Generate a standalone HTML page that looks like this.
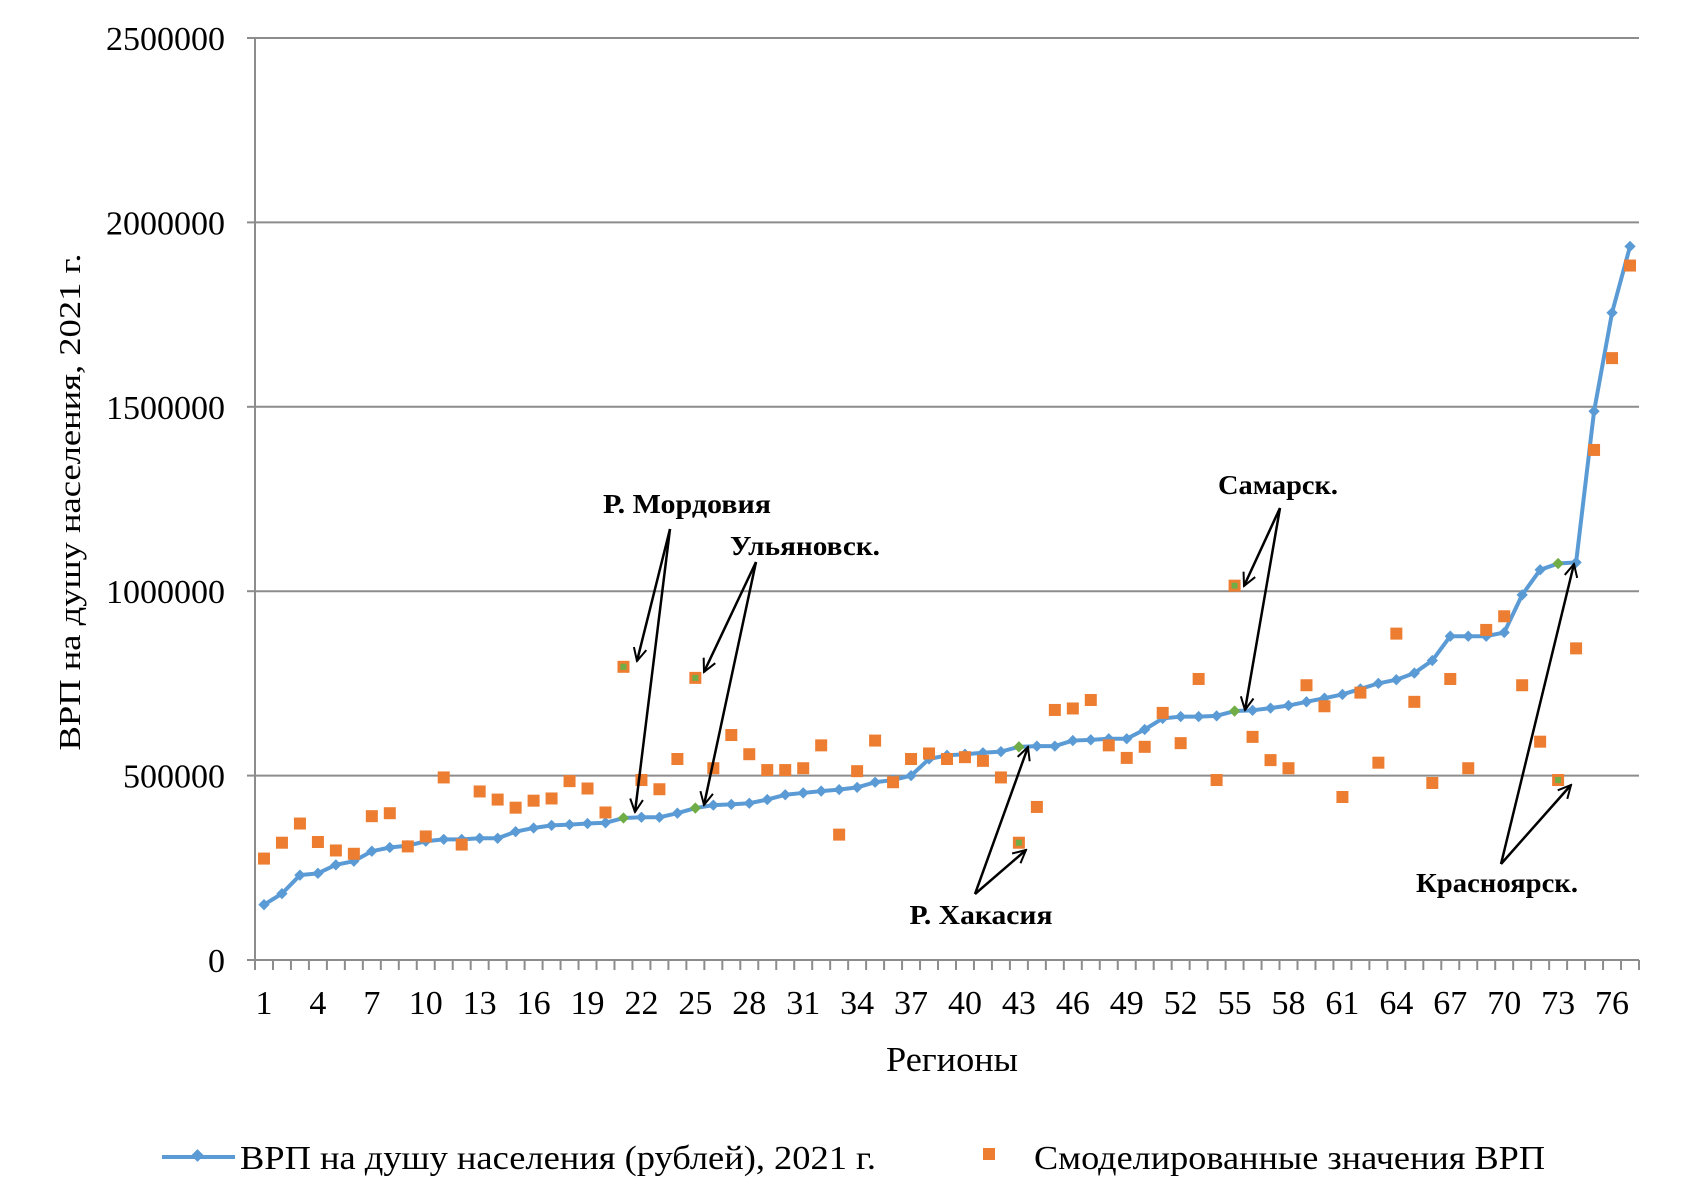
<!DOCTYPE html>
<html><head><meta charset="utf-8">
<style>
html,body{margin:0;padding:0;background:#fff;}
svg{display:block;font-family:"Liberation Serif","DejaVu Serif",serif;}
</style></head>
<body>
<svg id="chart" width="1684" height="1197" viewBox="0 0 1684 1197" xmlns="http://www.w3.org/2000/svg">
<defs>
<marker id="ah" viewBox="0 0 20 20" refX="18" refY="10" markerWidth="16" markerHeight="16" markerUnits="userSpaceOnUse" orient="auto">
<path d="M2,2 L18,10 L2,18" fill="none" stroke="#000" stroke-width="2.5"/>
</marker>
</defs>
<g id="grid"></g>
<g id="axes"></g>
<g id="series"></g>
<g id="annot"></g>
<text x="0" y="0" transform="translate(80,502) rotate(-90)" text-anchor="middle" font-size="31" textLength="497" lengthAdjust="spacingAndGlyphs">ВРП на душу населения, 2021 г.</text>
<text x="952" y="1071" text-anchor="middle" font-size="35" textLength="132" lengthAdjust="spacingAndGlyphs">Регионы</text>
<g>
<g>
<line x1="162" y1="1157" x2="235" y2="1157" stroke="#5b9bd5" stroke-width="4"/>
<rect x="193" y="1151" width="9" height="9" fill="#5b9bd5" transform="rotate(45 197.5 1155.5)"/>
<text x="240" y="1169" font-size="34" textLength="636" lengthAdjust="spacingAndGlyphs">ВРП на душу населения (рублей), 2021 г.</text>
</g>
<g>
<rect x="983" y="1148" width="12" height="12" fill="#ed7d31"/>
<text x="1034" y="1169" font-size="34" textLength="511" lengthAdjust="spacingAndGlyphs">Смоделированные значения ВРП</text>
</g>
</g>
<script>
const actual=[150,180,230,235,258,268,295,305,310,322,327,327,330,330,348,358,365,367,370,372,385,387,387,398,412,420,422,425,435,448,453,458,462,468,482,488,500,545,555,558,562,565,578,580,580,595,597,600,600,625,655,660,660,662,675,677,683,690,700,710,720,735,750,760,778,812,878,878,878,888,990,1058,1075,1078,1488,1755,1935];
const modeled=[275,318,370,320,297,288,390,398,308,335,495,313,457,435,413,432,438,485,465,400,795,488,463,545,765,520,610,558,515,515,520,582,340,512,595,482,545,560,545,550,540,495,318,415,678,682,705,582,548,578,670,588,762,488,1015,605,542,520,745,688,442,725,535,885,700,480,762,520,895,932,745,592,488,845,1383,1632,1883];
const highlighted=[21,25,43,55,73];
const yTicks=[0,500000,1000000,1500000,2000000,2500000];
const xTickLabels=[1,4,7,10,13,16,19,22,25,28,31,34,37,40,43,46,49,52,55,58,61,64,67,70,73,76];

const NS="http://www.w3.org/2000/svg";
const X0=255,X1=1639,Y0=960,YT=38,YMAX=2500000;
const n=actual.length, step=(X1-X0)/n;
function xs(i){return X0+(i-0.5)*step;}
function ys(v){return Y0-(v/YMAX)*(Y0-YT);}
function mk(tag,attrs,parent){const e=document.createElementNS(NS,tag);for(const k in attrs)e.setAttribute(k,attrs[k]);parent.appendChild(e);return e;}
const grid=document.getElementById('grid'),axes=document.getElementById('axes'),ser=document.getElementById('series');

yTicks.forEach(t=>{
  const y=ys(t);
  if(t>0){const g=mk('line',{x1:X0,y1:y,x2:X1,y2:y,stroke:'#8c8c8c','stroke-width':2},grid);
  
  }
  const tk=mk('line',{x1:X0-8,y1:y,x2:X0,y2:y,stroke:'#8c8c8c','stroke-width':2},axes);
  
  
  const lb=mk('text',{x:225,y:y+12,'text-anchor':'end','font-size':34},axes);
  lb.textContent=String(t);
  
  
});
const ya=mk('line',{x1:X0,y1:YT,x2:X0,y2:Y0,stroke:'#8c8c8c','stroke-width':2},axes);


const xa=mk('line',{x1:X0-8,y1:Y0,x2:X1,y2:Y0,stroke:'#8c8c8c','stroke-width':2},axes);


for(let i=0;i<=n;i++){
  const x=X0+i*step;
  const t=mk('line',{x1:x,y1:Y0,x2:x,y2:Y0+10,stroke:'#8c8c8c','stroke-width':2},axes);
  
  
}
xTickLabels.forEach(c=>{
  const t=mk('text',{x:xs(c),y:1014,'text-anchor':'middle','font-size':34},axes);
  t.textContent=String(c);
  
  
});

const pts=actual.map((v,i)=>xs(i+1)+','+ys(v*1000)).join(' ');
const pl=mk('polyline',{points:pts,fill:'none',stroke:'#5b9bd5','stroke-width':4,'stroke-linejoin':'round'},ser);


actual.forEach((v,i)=>{
  const x=xs(i+1),y=ys(v*1000);
  const hl=highlighted.includes(i+1);
  const d=mk('rect',{x:x-4,y:y-4,width:8,height:8,fill:hl?'#70ad47':'#5b9bd5',transform:'rotate(45 '+x+' '+y+')'},ser);
  
  
});
modeled.forEach((v,i)=>{
  const x=xs(i+1),y=ys(v*1000);
  const hl=highlighted.includes(i+1);
  const s=mk('rect',{x:x-6,y:y-6,width:12,height:12,fill:'#ed7d31'},ser);
  
  
  if(hl){const g=mk('rect',{x:x-3,y:y-3,width:6,height:6,fill:'#70ad47'},ser);
  
  }
});

const an=document.getElementById('annot');
const notes=[
 {name:'mordovia',label:'Р. Мордовия',lx:687,ly:513,w:168,sx:670,sy:529,ends:[[637,661],[635,812]]},
 {name:'ulyanovsk',label:'Ульяновск.',lx:805,ly:555,w:150,sx:756,sy:562,ends:[[704,672],[704,805]]},
 {name:'samara',label:'Самарск.',lx:1278,ly:494,w:120,sx:1280,sy:508,ends:[[1244,586],[1245,710]]},
 {name:'khakassia',label:'Р. Хакасия',lx:981,ly:924,w:143,sx:975,sy:894,ends:[[1028,747],[1026,850]]},
 {name:'krasnoyarsk',label:'Красноярск.',lx:1497,ly:892,w:162,sx:1501,sy:864,ends:[[1574,564],[1571,785]]}
];
notes.forEach(a=>{
  const t=mk('text',{x:a.lx,y:a.ly,'text-anchor':'middle','font-size':27,'font-weight':'bold',textLength:a.w,lengthAdjust:'spacingAndGlyphs'},an);
  t.textContent=a.label;
  
  
  a.ends.forEach(e=>{
    const l=mk('line',{x1:a.sx,y1:a.sy,x2:e[0],y2:e[1],stroke:'#000','stroke-width':2.5,'marker-end':'url(#ah)'},an);
    
    
  });
});
</script>
</svg>
</body></html>
